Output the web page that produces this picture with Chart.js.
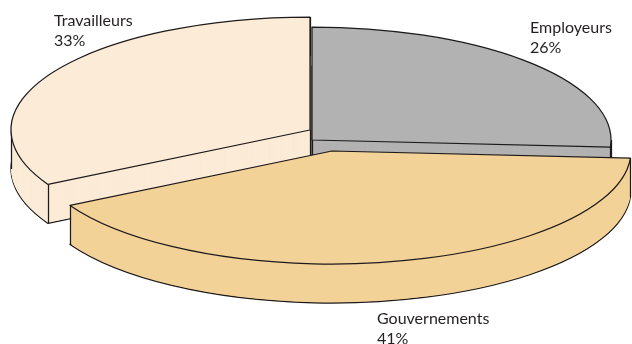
<!DOCTYPE html>
<html>
<head>
<meta charset="utf-8">
<script src="https://cdn.jsdelivr.net/npm/chart.js@4/dist/chart.umd.min.js"></script>
<style>
  html, body { margin: 0; padding: 0; background: #ffffff; }
  #wrap { width: 632px; height: 344px; }
</style>
</head>
<body>
<div id="wrap"><canvas id="chart" width="632" height="344"></canvas></div>
<script>
// Répartition du financement (en %)
const categories = ['Employeurs', 'Gouvernements', 'Travailleurs'];
const shares = [26, 41, 33];
const shareLabels = shares.map(v => v + '%');

const sliceColors = ['#b2b2b2', '#f3d298', '#fbebd7'];
const outline = '#1e1a1b';

// Tilted, extruded pie drawn from the arc elements Chart.js lays out
const pie3d = {
  id: 'pie3d',
  beforeDatasetsDraw(chart, args, opts) {
    const ctx = chart.ctx;
    const meta = chart.getDatasetMeta(0);
    const slices = meta.data.map((arc, i) => {
      const p = arc.getProps(['x', 'y', 'startAngle', 'endAngle', 'outerRadius'], true);
      const [ex, ey] = opts.explode[i] || [0, 0];
      const mid = (p.startAngle + p.endAngle) / 2;
      return { arc, i, p, ex, ey, key: Math.sin(mid) * opts.ry + ey };
    });
    // paint back to front
    slices.sort((a, b) => a.key - b.key);

    const depth = opts.depth;
    ctx.save();
    ctx.lineJoin = 'round';
    ctx.lineWidth = opts.lineWidth;

    for (const s of slices) {
      const { p, ex, ey, arc } = s;
      const sx = opts.rx / p.outerRadius;
      const sy = opts.ry / p.outerRadius;
      const fill = arc.options.backgroundColor;
      const line = arc.options.borderColor;

      const sector = (dy) => {
        ctx.save();
        ctx.translate(p.x + ex, p.y + ey + dy);
        ctx.scale(sx, sy);
        ctx.beginPath();
        ctx.moveTo(0, 0);
        ctx.arc(0, 0, p.outerRadius, p.startAngle, p.endAngle);
        ctx.closePath();
        ctx.restore();
      };
      const rim = (a) => [p.x + ex + Math.cos(a) * opts.rx, p.y + ey + Math.sin(a) * opts.ry];

      ctx.fillStyle = fill;
      ctx.strokeStyle = line;

      // bottom face with its outline, then the wall
      sector(depth);
      ctx.fill();
      ctx.stroke();
      for (let d = depth - 1; d >= 1; d--) {
        sector(d);
        ctx.fill();
      }

      // vertical edges: centre, both rim ends, and side tangents inside the slice
      const pts = [[p.x + ex, p.y + ey], rim(p.startAngle), rim(p.endAngle)];
      const TAU = Math.PI * 2;
      for (const t of [0, Math.PI]) {
        let a = t;
        while (a < p.startAngle) a += TAU;
        if (a <= p.endAngle) pts.push(rim(a));
      }
      ctx.beginPath();
      for (const [x, y] of pts) {
        const xx = Math.round(x) + 0.5;
        ctx.moveTo(xx, y);
        ctx.lineTo(xx, y + depth);
      }
      ctx.stroke();

      // top face
      sector(0);
      ctx.fill();
      ctx.stroke();
    }
    ctx.restore();
    return false;
  },
  afterDraw(chart, args, opts) {
    const ctx = chart.ctx;
    ctx.save();
    ctx.font = opts.font;
    ctx.fillStyle = opts.color;
    ctx.textAlign = 'left';
    ctx.textBaseline = 'alphabetic';
    categories.forEach((name, i) => {
      const [x, y] = opts.labelAt[i];
      ctx.fillText(name, x, y);
      ctx.fillText(shareLabels[i], x, y + opts.lineHeight);
    });
    ctx.restore();
  }
};

new Chart(document.getElementById('chart'), {
  type: 'pie',
  data: {
    labels: categories,
    datasets: [{
      data: shares,
      backgroundColor: sliceColors,
      borderColor: outline,
      borderWidth: 1,
      hoverOffset: 0
    }]
  },
  options: {
    responsive: false,
    devicePixelRatio: 1,
    animation: false,
    events: [],
    layout: { padding: { left: 0, right: 8, top: 0, bottom: 64 } },
    plugins: {
      legend: { display: false },
      tooltip: { enabled: false },
      pie3d: {
        rx: 299,
        ry: 113,
        depth: 39,
        lineWidth: 1.25,
        explode: [[0, 0], [20, 11], [-2, -10]],
        font: '16px Lato',
        color: '#231f20',
        lineHeight: 20,
        labelAt: [[530, 33], [377, 324], [54, 26]]
      }
    }
  },
  plugins: [pie3d]
});
</script>
</body>
</html>
